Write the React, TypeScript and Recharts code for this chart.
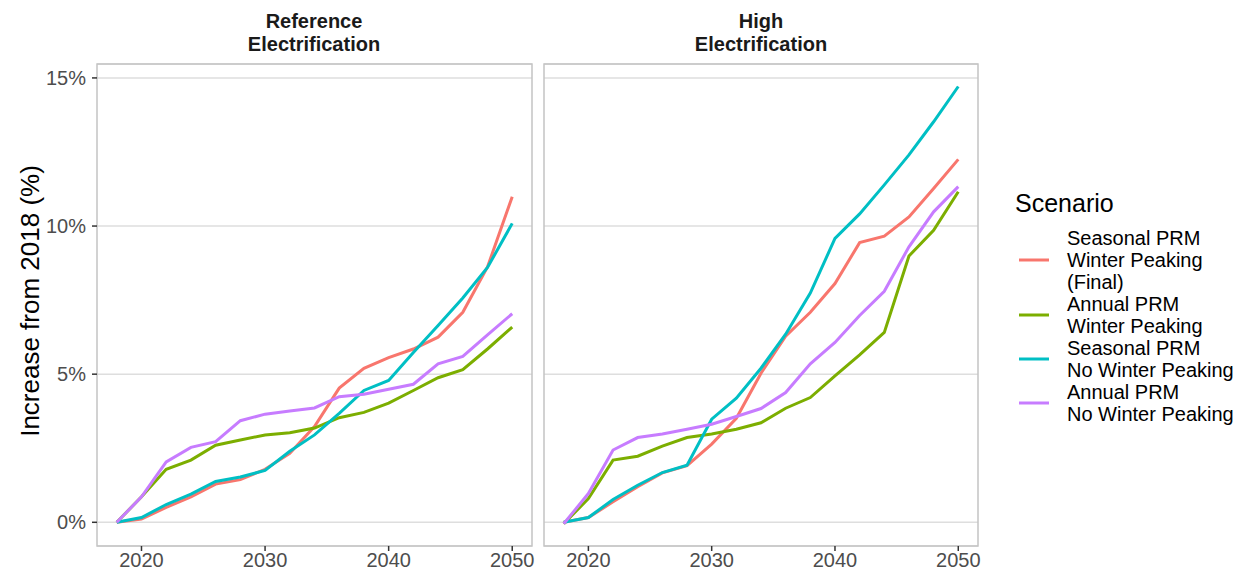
import { LineChart, Line, XAxis, YAxis, CartesianGrid, ReferenceArea, Legend } from "recharts";

const years = [2018, 2020, 2022, 2024, 2026, 2028, 2030, 2032, 2034, 2036, 2038, 2040, 2042, 2044, 2046, 2048, 2050];

// Reference Electrification panel
const refSeasonalWinter = [0, 0.11, 0.5, 0.86, 1.29, 1.44, 1.79, 2.33, 3.23, 4.53, 5.2, 5.56, 5.85, 6.25, 7.09, 8.62, 10.99];
const refAnnualWinter = [0, 0.86, 1.79, 2.1, 2.6, 2.78, 2.95, 3.02, 3.18, 3.53, 3.71, 4.02, 4.45, 4.88, 5.15, 5.85, 6.59];
const refSeasonalNoWinter = [0, 0.16, 0.6, 0.95, 1.38, 1.53, 1.75, 2.4, 2.95, 3.68, 4.45, 4.79, 5.73, 6.64, 7.57, 8.6, 10.09];
const refAnnualNoWinter = [0, 0.86, 2.04, 2.53, 2.72, 3.43, 3.65, 3.76, 3.86, 4.24, 4.32, 4.49, 4.66, 5.35, 5.6, 6.33, 7.04];

// High Electrification panel
const highSeasonalWinter = [0, 0.16, 0.69, 1.2, 1.67, 1.91, 2.64, 3.51, 5.03, 6.28, 7.09, 8.06, 9.44, 9.66, 10.31, 11.27, 12.25];
const highAnnualWinter = [-0.05, 0.8, 2.1, 2.23, 2.57, 2.86, 2.98, 3.14, 3.36, 3.85, 4.21, 4.94, 5.65, 6.41, 8.99, 9.86, 11.16];
const highSeasonalNoWinter = [0, 0.16, 0.77, 1.25, 1.68, 1.93, 3.48, 4.19, 5.2, 6.35, 7.74, 9.58, 10.41, 11.39, 12.4, 13.52, 14.71];
const highAnnualNoWinter = [-0.05, 0.97, 2.44, 2.86, 2.98, 3.14, 3.31, 3.57, 3.84, 4.38, 5.35, 6.07, 6.98, 7.8, 9.3, 10.48, 11.33];

const xTicks = [2020, 2030, 2040, 2050];
const yTicks = [0, 5, 10, 15];
const xDomain: [number, number] = [2016.4, 2051.6];
const yDomain: [number, number] = [-0.8, 15.47];

const series = [
  { key: "sw", label: ["Seasonal PRM", "Winter Peaking", "(Final)"], color: "#F8766D" },
  { key: "aw", label: ["Annual PRM", "Winter Peaking"], color: "#7CAE00" },
  { key: "sn", label: ["Seasonal PRM", "No Winter Peaking"], color: "#00BFC4" },
  { key: "an", label: ["Annual PRM", "No Winter Peaking"], color: "#C77CFF" },
];

const refData = years.map((year, i) => ({
  year,
  sw: refSeasonalWinter[i],
  aw: refAnnualWinter[i],
  sn: refSeasonalNoWinter[i],
  an: refAnnualNoWinter[i],
}));

const highData = years.map((year, i) => ({
  year,
  sw: highSeasonalWinter[i],
  aw: highAnnualWinter[i],
  sn: highSeasonalNoWinter[i],
  an: highAnnualNoWinter[i],
}));

const FONT = "'Liberation Sans', Arial, Helvetica, sans-serif";
const tickStyle = { fill: "#4D4D4D", fontSize: 20, fontFamily: FONT };

function YLabel(props: any) {
  const vb = props.viewBox || { x: 37, y: 64, height: 482 };
  const x = 30;
  const y = vb.y + vb.height / 2 - 4;
  return (
    <text
      x={x}
      y={y}
      transform={`rotate(-90, ${x}, ${y})`}
      textAnchor="middle"
      dominantBaseline="central"
      fill="#000"
      fontSize={26}
      fontFamily={FONT}
    >
      Increase from 2018 (%)
    </text>
  );
}

function LegendBox() {
  return (
    <div style={{ fontFamily: FONT, color: "#000" }}>
      <div style={{ fontSize: 25, lineHeight: "40px", height: 40, marginBottom: 4 }}>Scenario</div>
      {series.map((s) => (
        <div key={s.key} style={{ display: "flex", alignItems: "center" }}>
          <svg width={52} height={10} style={{ flex: "none" }}>
            <line x1={4} x2={34} y1={5} y2={5} stroke={s.color} strokeWidth={3} />
          </svg>
          <div style={{ fontSize: 20, lineHeight: "22px" }}>
            {s.label.map((l, i) => (
              <div key={i}>{l}</div>
            ))}
          </div>
        </div>
      ))}
    </div>
  );
}

function Panel({ data, showY, legend }: { data: any[]; showY: boolean; legend?: boolean }) {
  return (
    <LineChart
      width={showY ? 540 : 710}
      height={576}
      data={data}
      margin={showY ? { top: 64, right: 8, bottom: 0, left: 37 } : { top: 64, right: 272, bottom: 0, left: 4 }}
    >
      <CartesianGrid vertical={false} stroke="#DEDEDE" strokeWidth={1.5} />
      <XAxis
        dataKey="year"
        type="number"
        domain={xDomain}
        ticks={xTicks}
        allowDataOverflow
        height={30}
        axisLine={false}
        tickLine={{ stroke: "#333", strokeWidth: 1.5 }}
        tickSize={5}
        tick={tickStyle}
      />
      <YAxis
        type="number"
        domain={yDomain}
        ticks={yTicks}
        allowDataOverflow
        hide={!showY}
        width={60}
        axisLine={false}
        tickLine={{ stroke: "#333", strokeWidth: 1.5 }}
        tickSize={5}
        tickMargin={6}
        tick={tickStyle}
        tickFormatter={(v: number) => `${v}%`}
        label={showY ? { content: (p: any) => <YLabel {...p} /> } : undefined}
      />
      {series.map((s) => (
        <Line
          key={s.key}
          type="linear"
          dataKey={s.key}
          stroke={s.color}
          strokeWidth={3}
          dot={false}
          isAnimationActive={false}
        />
      ))}
      <ReferenceArea
        x1={xDomain[0]}
        x2={xDomain[1]}
        y1={yDomain[0]}
        y2={yDomain[1]}
        fill="none"
        fillOpacity={0}
        stroke="#C4C4C4"
        strokeWidth={1.5}
        ifOverflow="visible"
      />
      {legend && (
        <Legend
          layout="vertical"
          align="center"
          verticalAlign="middle"
          wrapperStyle={{ left: 475, top: 183, width: 235, height: "auto" }}
          content={() => <LegendBox />}
        />
      )}
    </LineChart>
  );
}

const titleStyle: any = {
  position: "absolute",
  top: 10,
  width: 300,
  textAlign: "center",
  fontFamily: FONT,
  fontWeight: "bold",
  fontSize: 20,
  lineHeight: "23px",
  color: "#1A1A1A",
};

export default function App() {
  return (
    <div style={{ position: "absolute", left: 0, top: 0, width: 1250, height: 576, background: "#fff" }}>
      <div style={{ position: "absolute", left: 0, top: 0 }}>
        <Panel data={refData} showY />
      </div>
      <div style={{ position: "absolute", left: 540, top: 0 }}>
        <Panel data={highData} showY={false} legend />
      </div>
      <div style={{ ...titleStyle, left: 314 - 150 }}>
        Reference
        <br />
        Electrification
      </div>
      <div style={{ ...titleStyle, left: 761 - 150 }}>
        High
        <br />
        Electrification
      </div>
    </div>
  );
}
